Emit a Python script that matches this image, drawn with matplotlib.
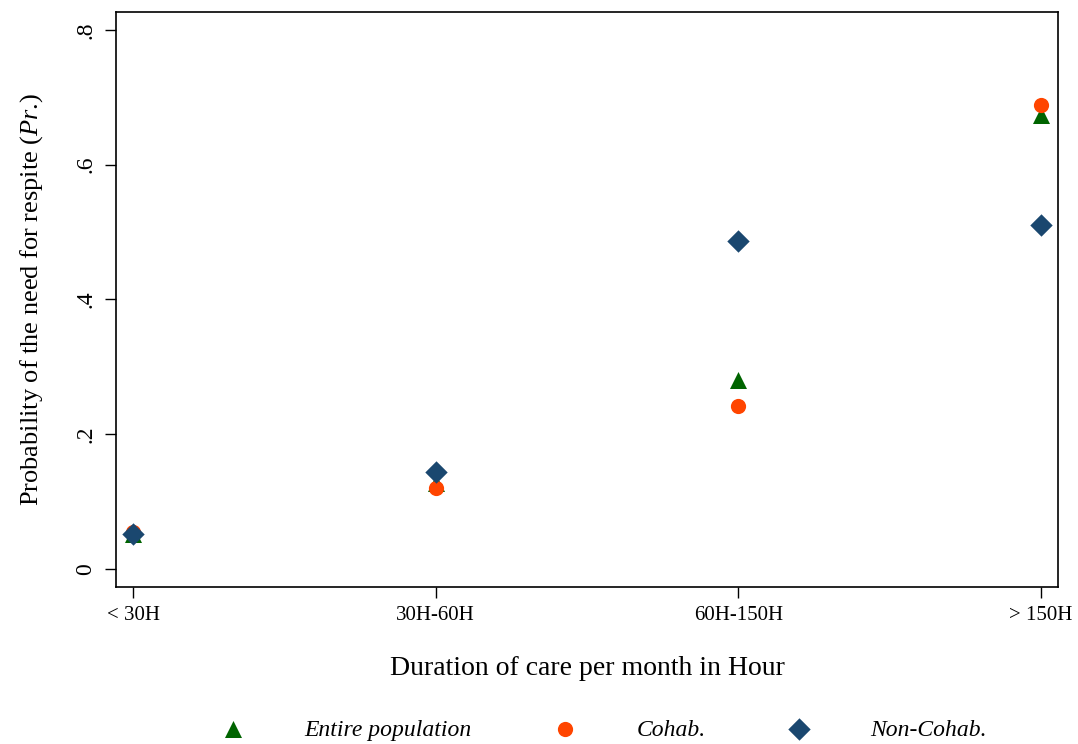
import matplotlib
matplotlib.use('Agg')
import matplotlib.pyplot as plt
import numpy as np

plt.rcParams['font.family'] = ['Liberation Serif', 'DejaVu Serif']
plt.rcParams['mathtext.fontset'] = 'custom'
plt.rcParams['mathtext.rm'] = 'Liberation Serif'
plt.rcParams['mathtext.it'] = 'Liberation Serif:italic'

# categories and probabilities
durations = ['< 30H', '30H-60H', '60H-150H', '> 150H']
entire = [0.052, 0.127, 0.281, 0.674]
cohab = [0.055, 0.120, 0.242, 0.689]
non_cohab = [0.052, 0.144, 0.486, 0.510]

yticks = [0, 0.2, 0.4, 0.6, 0.8]
ytick_labels = ['0', '.2', '.4', '.6', '.8']

green = '#006400'
orange = '#ff4500'
navy = '#1a476f'

fig = plt.figure(figsize=(10.78, 7.44), dpi=100)
ax = fig.add_axes([115.7 / 1078, 1 - 586.7 / 744, (1058.3 - 115.7) / 1078, (586.7 - 12.3) / 744])

x = np.arange(len(durations))
ax.scatter(x, entire, marker='^', s=150, color=green, linewidths=0, label='Entire population', zorder=3)
ax.scatter(x, cohab, marker='o', s=120, color=orange, linewidths=0, label='Cohab.', zorder=4)
ax.scatter(x, non_cohab, marker='D', s=130, color=navy, linewidths=0, label='Non-Cohab.', zorder=5)

ax.set_xlim(-0.058, 3.058)
ax.set_ylim(-0.0263, 0.826)
ax.set_xticks(x)
ax.set_xticklabels(durations, fontsize=15)
ax.set_yticks(yticks)
ax.set_yticklabels(ytick_labels, fontsize=17, rotation=90, va='center')
ax.tick_params(length=8, width=1.0, pad=6)

for s in ax.spines.values():
    s.set_linewidth(1.2)

ax.set_xlabel('Duration of care per month in Hour', fontsize=20, labelpad=22)
ax.set_ylabel(r'Probability of the need for respite ($\mathit{Pr}$.)', fontsize=19, labelpad=22)

leg = fig.legend(loc='lower left', bbox_to_anchor=(200 / 1078, -0.024), ncol=3, frameon=False,
                 prop={'style': 'italic', 'size': 17}, handletextpad=2.53, columnspacing=3.45,
                 handlelength=1.0, scatterpoints=1)

fig.savefig('out.png', dpi=100)
